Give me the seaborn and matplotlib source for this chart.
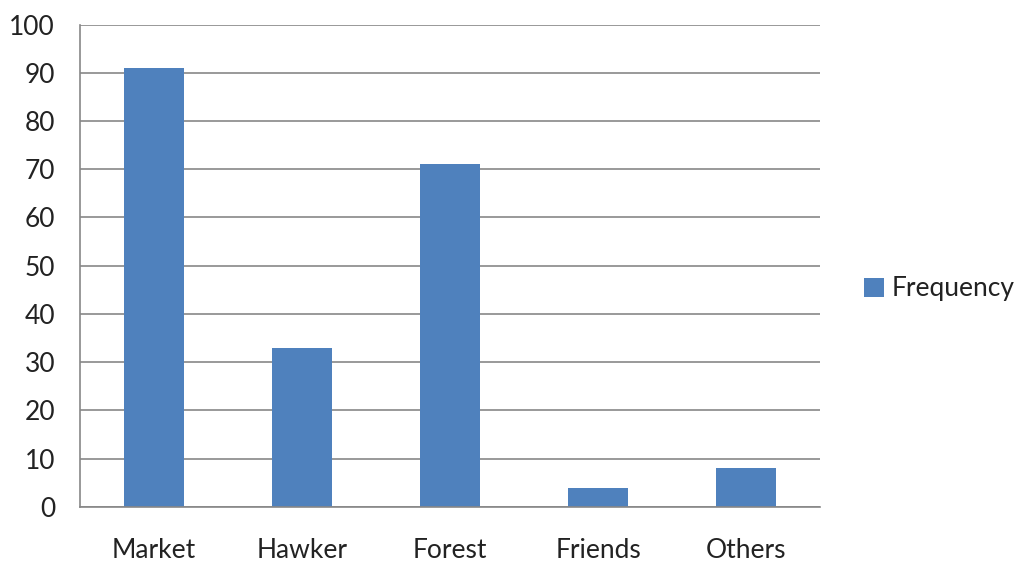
import numpy as np
import pandas as pd
import matplotlib
matplotlib.use('Agg')
import matplotlib.pyplot as plt
import seaborn as sns

# source categories and their counts
sources = ['Market', 'Hawker', 'Forest', 'Friends', 'Others']
frequency = [91, 33, 71, 4, 8]
yticks = [0, 10, 20, 30, 40, 50, 60, 70, 80, 90, 100]

df = pd.DataFrame({'Source': sources, 'Frequency': frequency})

sns.set_style('white')
plt.rcParams['font.family'] = ['Lato', 'DejaVu Sans']

fig = plt.figure(figsize=(10.14, 5.61), dpi=100)
ax = fig.add_axes([0.0789, 0.0963, 0.7298, 0.86])

sns.barplot(data=df, x='Source', y='Frequency', color='#4F81BD', width=0.4,
            saturation=1, ax=ax, label='Frequency', linewidth=0)

grey = '#878787'
ax.set_ylim(0, 100)
ax.set_xlim(-0.5, len(sources) - 0.5)
ax.set_yticks(yticks)
ax.yaxis.grid(True, color=grey, linewidth=1.2)
ax.set_axisbelow(True)
ax.set_xlabel('')
ax.set_ylabel('')

for s in ['top', 'right']:
    ax.spines[s].set_visible(False)
for s in ['left', 'bottom']:
    ax.spines[s].set_color(grey)
    ax.spines[s].set_linewidth(1.2)

ax.tick_params(axis='y', which='major', length=7, color=grey, width=1.2,
               labelsize=19, pad=11, labelcolor='#222222')
ax.tick_params(axis='x', which='major', length=0, labelsize=19, pad=22,
               labelcolor='#222222')
ax.set_xticks(np.arange(-0.5, len(sources)), minor=True)
ax.tick_params(axis='x', which='minor', length=7, color=grey, width=1.2)

ax.legend(loc='center left', bbox_to_anchor=(1.045, 0.452), frameon=False,
          fontsize=19, handlelength=0.75, handleheight=0.75, handletextpad=0.3,
          labelcolor='#222222', borderaxespad=0)

fig.savefig('out.png', dpi=100)
